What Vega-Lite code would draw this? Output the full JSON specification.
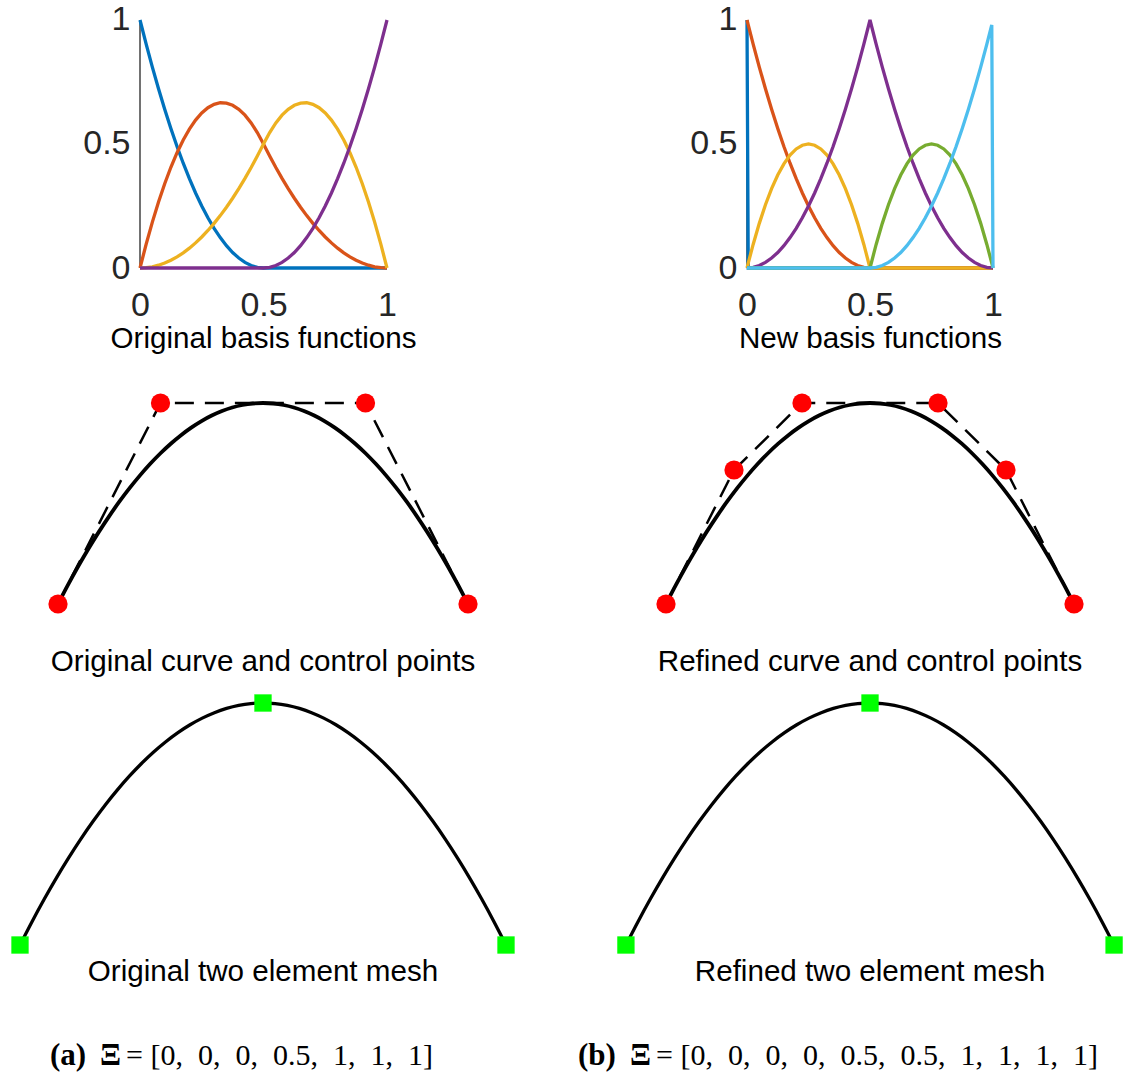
{
  "$schema": "https://vega.github.io/schema/vega-lite/v6.json",
  "padding": 0,
  "background": "white",
  "config": {
    "view": {"stroke": null},
    "axis": {"labelFont": "Liberation Sans", "titleFont": "Liberation Sans", "labelColor": "#262626", "titleColor": "#000000", "grid": false, "domain": false, "ticks": false},
    "title": {"font": "Liberation Sans", "fontWeight": "normal", "color": "#000000"}
  },
  "datasets": {
    "basis_a": [
      {"u":0,"N0":1,"N1":0,"N2":0,"N3":0},
      {"u":0.025,"N0":0.9025,"N1":0.09625,"N2":0.00125,"N3":0},
      {"u":0.05,"N0":0.81,"N1":0.185,"N2":0.005,"N3":0},
      {"u":0.075,"N0":0.7225,"N1":0.26625,"N2":0.01125,"N3":0},
      {"u":0.1,"N0":0.64,"N1":0.34,"N2":0.02,"N3":0},
      {"u":0.125,"N0":0.5625,"N1":0.40625,"N2":0.03125,"N3":0},
      {"u":0.15,"N0":0.49,"N1":0.465,"N2":0.045,"N3":0},
      {"u":0.175,"N0":0.4225,"N1":0.51625,"N2":0.06125,"N3":0},
      {"u":0.2,"N0":0.36,"N1":0.56,"N2":0.08,"N3":0},
      {"u":0.225,"N0":0.3025,"N1":0.59625,"N2":0.10125,"N3":0},
      {"u":0.25,"N0":0.25,"N1":0.625,"N2":0.125,"N3":0},
      {"u":0.275,"N0":0.2025,"N1":0.64625,"N2":0.15125,"N3":0},
      {"u":0.3,"N0":0.16,"N1":0.66,"N2":0.18,"N3":0},
      {"u":0.325,"N0":0.1225,"N1":0.66625,"N2":0.21125,"N3":0},
      {"u":0.35,"N0":0.09,"N1":0.665,"N2":0.245,"N3":0},
      {"u":0.375,"N0":0.0625,"N1":0.65625,"N2":0.28125,"N3":0},
      {"u":0.4,"N0":0.04,"N1":0.64,"N2":0.32,"N3":0},
      {"u":0.425,"N0":0.0225,"N1":0.61625,"N2":0.36125,"N3":0},
      {"u":0.45,"N0":0.01,"N1":0.585,"N2":0.405,"N3":0},
      {"u":0.475,"N0":0.0025,"N1":0.54625,"N2":0.45125,"N3":0},
      {"u":0.5,"N0":0,"N1":0.5,"N2":0.5,"N3":0},
      {"u":0.525,"N0":0,"N1":0.45125,"N2":0.54625,"N3":0.0025},
      {"u":0.55,"N0":0,"N1":0.405,"N2":0.585,"N3":0.01},
      {"u":0.575,"N0":0,"N1":0.36125,"N2":0.61625,"N3":0.0225},
      {"u":0.6,"N0":0,"N1":0.32,"N2":0.64,"N3":0.04},
      {"u":0.625,"N0":0,"N1":0.28125,"N2":0.65625,"N3":0.0625},
      {"u":0.65,"N0":0,"N1":0.245,"N2":0.665,"N3":0.09},
      {"u":0.675,"N0":0,"N1":0.21125,"N2":0.66625,"N3":0.1225},
      {"u":0.7,"N0":0,"N1":0.18,"N2":0.66,"N3":0.16},
      {"u":0.725,"N0":0,"N1":0.15125,"N2":0.64625,"N3":0.2025},
      {"u":0.75,"N0":0,"N1":0.125,"N2":0.625,"N3":0.25},
      {"u":0.775,"N0":0,"N1":0.10125,"N2":0.59625,"N3":0.3025},
      {"u":0.8,"N0":0,"N1":0.08,"N2":0.56,"N3":0.36},
      {"u":0.825,"N0":0,"N1":0.06125,"N2":0.51625,"N3":0.4225},
      {"u":0.85,"N0":0,"N1":0.045,"N2":0.465,"N3":0.49},
      {"u":0.875,"N0":0,"N1":0.03125,"N2":0.40625,"N3":0.5625},
      {"u":0.9,"N0":0,"N1":0.02,"N2":0.34,"N3":0.64},
      {"u":0.925,"N0":0,"N1":0.01125,"N2":0.26625,"N3":0.7225},
      {"u":0.95,"N0":0,"N1":0.005,"N2":0.185,"N3":0.81},
      {"u":0.975,"N0":0,"N1":0.00125,"N2":0.09625,"N3":0.9025},
      {"u":1,"N0":0,"N1":0,"N2":0,"N3":1}
    ],
    "basis_b": [
      {"u":0,"B1":1,"B2":1,"B3":0,"B4":0,"B5":0,"B6":0},
      {"u":0.005,"B1":0,"B2":0.9801,"B3":0.0198,"B4":0.0001,"B5":0,"B6":0},
      {"u":0.025,"B1":0,"B2":0.9025,"B3":0.095,"B4":0.0025,"B5":0,"B6":0},
      {"u":0.05,"B1":0,"B2":0.81,"B3":0.18,"B4":0.01,"B5":0,"B6":0},
      {"u":0.075,"B1":0,"B2":0.7225,"B3":0.255,"B4":0.0225,"B5":0,"B6":0},
      {"u":0.1,"B1":0,"B2":0.64,"B3":0.32,"B4":0.04,"B5":0,"B6":0},
      {"u":0.125,"B1":0,"B2":0.5625,"B3":0.375,"B4":0.0625,"B5":0,"B6":0},
      {"u":0.15,"B1":0,"B2":0.49,"B3":0.42,"B4":0.09,"B5":0,"B6":0},
      {"u":0.175,"B1":0,"B2":0.4225,"B3":0.455,"B4":0.1225,"B5":0,"B6":0},
      {"u":0.2,"B1":0,"B2":0.36,"B3":0.48,"B4":0.16,"B5":0,"B6":0},
      {"u":0.225,"B1":0,"B2":0.3025,"B3":0.495,"B4":0.2025,"B5":0,"B6":0},
      {"u":0.25,"B1":0,"B2":0.25,"B3":0.5,"B4":0.25,"B5":0,"B6":0},
      {"u":0.275,"B1":0,"B2":0.2025,"B3":0.495,"B4":0.3025,"B5":0,"B6":0},
      {"u":0.3,"B1":0,"B2":0.16,"B3":0.48,"B4":0.36,"B5":0,"B6":0},
      {"u":0.325,"B1":0,"B2":0.1225,"B3":0.455,"B4":0.4225,"B5":0,"B6":0},
      {"u":0.35,"B1":0,"B2":0.09,"B3":0.42,"B4":0.49,"B5":0,"B6":0},
      {"u":0.375,"B1":0,"B2":0.0625,"B3":0.375,"B4":0.5625,"B5":0,"B6":0},
      {"u":0.4,"B1":0,"B2":0.04,"B3":0.32,"B4":0.64,"B5":0,"B6":0},
      {"u":0.425,"B1":0,"B2":0.0225,"B3":0.255,"B4":0.7225,"B5":0,"B6":0},
      {"u":0.45,"B1":0,"B2":0.01,"B3":0.18,"B4":0.81,"B5":0,"B6":0},
      {"u":0.475,"B1":0,"B2":0.0025,"B3":0.095,"B4":0.9025,"B5":0,"B6":0},
      {"u":0.5,"B1":0,"B2":0,"B3":0,"B4":1,"B5":0,"B6":0},
      {"u":0.525,"B1":0,"B2":0,"B3":0,"B4":0.9025,"B5":0.095,"B6":0.0025},
      {"u":0.55,"B1":0,"B2":0,"B3":0,"B4":0.81,"B5":0.18,"B6":0.01},
      {"u":0.575,"B1":0,"B2":0,"B3":0,"B4":0.7225,"B5":0.255,"B6":0.0225},
      {"u":0.6,"B1":0,"B2":0,"B3":0,"B4":0.64,"B5":0.32,"B6":0.04},
      {"u":0.625,"B1":0,"B2":0,"B3":0,"B4":0.5625,"B5":0.375,"B6":0.0625},
      {"u":0.65,"B1":0,"B2":0,"B3":0,"B4":0.49,"B5":0.42,"B6":0.09},
      {"u":0.675,"B1":0,"B2":0,"B3":0,"B4":0.4225,"B5":0.455,"B6":0.1225},
      {"u":0.7,"B1":0,"B2":0,"B3":0,"B4":0.36,"B5":0.48,"B6":0.16},
      {"u":0.725,"B1":0,"B2":0,"B3":0,"B4":0.3025,"B5":0.495,"B6":0.2025},
      {"u":0.75,"B1":0,"B2":0,"B3":0,"B4":0.25,"B5":0.5,"B6":0.25},
      {"u":0.775,"B1":0,"B2":0,"B3":0,"B4":0.2025,"B5":0.495,"B6":0.3025},
      {"u":0.8,"B1":0,"B2":0,"B3":0,"B4":0.16,"B5":0.48,"B6":0.36},
      {"u":0.825,"B1":0,"B2":0,"B3":0,"B4":0.1225,"B5":0.455,"B6":0.4225},
      {"u":0.85,"B1":0,"B2":0,"B3":0,"B4":0.09,"B5":0.42,"B6":0.49},
      {"u":0.875,"B1":0,"B2":0,"B3":0,"B4":0.0625,"B5":0.375,"B6":0.5625},
      {"u":0.9,"B1":0,"B2":0,"B3":0,"B4":0.04,"B5":0.32,"B6":0.64},
      {"u":0.925,"B1":0,"B2":0,"B3":0,"B4":0.0225,"B5":0.255,"B6":0.7225},
      {"u":0.95,"B1":0,"B2":0,"B3":0,"B4":0.01,"B5":0.18,"B6":0.81},
      {"u":0.975,"B1":0,"B2":0,"B3":0,"B4":0.0025,"B5":0.095,"B6":0.9025},
      {"u":0.995,"B1":0,"B2":0,"B3":0,"B4":0.0001,"B5":0.0198,"B6":0.9801},
      {"u":1,"B1":0,"B2":0,"B3":0,"B4":0,"B5":0,"B6":0}
    ],
    "curve": [
      {"x":0,"y":0},{"x":0.025,"y":0.0975},{"x":0.05,"y":0.19},{"x":0.075,"y":0.2775},{"x":0.1,"y":0.36},
      {"x":0.125,"y":0.4375},{"x":0.15,"y":0.51},{"x":0.175,"y":0.5775},{"x":0.2,"y":0.64},{"x":0.225,"y":0.6975},
      {"x":0.25,"y":0.75},{"x":0.275,"y":0.7975},{"x":0.3,"y":0.84},{"x":0.325,"y":0.8775},{"x":0.35,"y":0.91},
      {"x":0.375,"y":0.9375},{"x":0.4,"y":0.96},{"x":0.425,"y":0.9775},{"x":0.45,"y":0.99},{"x":0.475,"y":0.9975},
      {"x":0.5,"y":1},
      {"x":0.525,"y":0.9975},{"x":0.55,"y":0.99},{"x":0.575,"y":0.9775},{"x":0.6,"y":0.96},{"x":0.625,"y":0.9375},
      {"x":0.65,"y":0.91},{"x":0.675,"y":0.8775},{"x":0.7,"y":0.84},{"x":0.725,"y":0.7975},{"x":0.75,"y":0.75},
      {"x":0.775,"y":0.6975},{"x":0.8,"y":0.64},{"x":0.825,"y":0.5775},{"x":0.85,"y":0.51},{"x":0.875,"y":0.4375},
      {"x":0.9,"y":0.36},{"x":0.925,"y":0.2775},{"x":0.95,"y":0.19},{"x":0.975,"y":0.0975},{"x":1,"y":0}
    ],
    "ctrl_a": [{"x":0,"y":0},{"x":0.25,"y":1},{"x":0.75,"y":1},{"x":1,"y":0}],
    "ctrl_b": [{"x":0,"y":0},{"x":0.1667,"y":0.6667},{"x":0.3333,"y":1},{"x":0.6667,"y":1},{"x":0.8333,"y":0.6667},{"x":1,"y":0}],
    "mesh": [{"x":0,"y":0},{"x":0.5,"y":1},{"x":1,"y":0}]
  },
  "columns": 2,
  "spacing": {"row": 0, "column": 87},
  "bounds": "flush",
  "concat": [
    {
      "width": 526, "height": 268,
      "data": {"name": "basis_a"},
      "layer": [
        {"data": {"values": [{}]}, "mark": {"type": "rule", "color": "#262626", "strokeWidth": 1.3},
         "encoding": {
           "x": {"datum": 0, "type": "quantitative", "scale": {"domain": [-0.566802, 1.562753], "nice": false, "zero": false},
                 "axis": {"values": [0, 0.5, 1], "format": "~g", "labelFontSize": 34, "labelPadding": 20, "title": "Original basis functions", "titleFontSize": 29.6, "titleFontWeight": "normal", "titlePadding": 2}},
           "y": {"datum": 0, "type": "quantitative", "scale": {"domain": [0, 1.080645], "nice": false, "zero": false},
                 "axis": {"values": [0, 0.5, 1], "format": "~g", "labelFontSize": 34, "labelPadding": 10, "offset": -140, "title": null}},
           "y2": {"datum": 1}}},
        {"data": {"values": [{}]}, "mark": {"type": "rule", "color": "#262626", "strokeWidth": 1.3},
         "encoding": {"y": {"datum": 0, "type": "quantitative"}, "x": {"datum": 0, "type": "quantitative"}, "x2": {"datum": 1}}},
        {"mark": {"type": "line", "color": "#0072BD", "strokeWidth": 3.3},
         "encoding": {"x": {"field": "u", "type": "quantitative"}, "y": {"field": "N0", "type": "quantitative"}}},
        {"mark": {"type": "line", "color": "#D95319", "strokeWidth": 3.3},
         "encoding": {"x": {"field": "u", "type": "quantitative"}, "y": {"field": "N1", "type": "quantitative"}}},
        {"mark": {"type": "line", "color": "#EDB120", "strokeWidth": 3.3},
         "encoding": {"x": {"field": "u", "type": "quantitative"}, "y": {"field": "N2", "type": "quantitative"}}},
        {"mark": {"type": "line", "color": "#7E2F8E", "strokeWidth": 3.3},
         "encoding": {"x": {"field": "u", "type": "quantitative"}, "y": {"field": "N3", "type": "quantitative"}}}
      ]
    },
    {
      "width": 514, "height": 268,
      "data": {"name": "basis_b"},
      "layer": [
        {"data": {"values": [{}]}, "mark": {"type": "rule", "color": "#262626", "strokeWidth": 1.3},
         "encoding": {
           "x": {"datum": 0, "type": "quantitative", "scale": {"domain": [-0.544715, 1.544715], "nice": false, "zero": false},
                 "axis": {"values": [0, 0.5, 1], "format": "~g", "labelFontSize": 34, "labelPadding": 20, "title": "New basis functions", "titleFontSize": 29.6, "titleFontWeight": "normal", "titlePadding": 2}},
           "y": {"datum": 0, "type": "quantitative", "scale": {"domain": [0, 1.080645], "nice": false, "zero": false},
                 "axis": {"values": [0, 0.5, 1], "format": "~g", "labelFontSize": 34, "labelPadding": 10, "offset": -134, "title": null}},
           "y2": {"datum": 1}}},
        {"data": {"values": [{}]}, "mark": {"type": "rule", "color": "#262626", "strokeWidth": 1.3},
         "encoding": {"y": {"datum": 0, "type": "quantitative"}, "x": {"datum": 0, "type": "quantitative"}, "x2": {"datum": 1}}},
        {"mark": {"type": "line", "color": "#0072BD", "strokeWidth": 3.3},
         "encoding": {"x": {"field": "u", "type": "quantitative"}, "y": {"field": "B1", "type": "quantitative"}}},
        {"mark": {"type": "line", "color": "#D95319", "strokeWidth": 3.3},
         "encoding": {"x": {"field": "u", "type": "quantitative"}, "y": {"field": "B2", "type": "quantitative"}}},
        {"mark": {"type": "line", "color": "#EDB120", "strokeWidth": 3.3},
         "encoding": {"x": {"field": "u", "type": "quantitative"}, "y": {"field": "B3", "type": "quantitative"}}},
        {"mark": {"type": "line", "color": "#7E2F8E", "strokeWidth": 3.3},
         "encoding": {"x": {"field": "u", "type": "quantitative"}, "y": {"field": "B4", "type": "quantitative"}}},
        {"mark": {"type": "line", "color": "#77AC30", "strokeWidth": 3.3},
         "encoding": {"x": {"field": "u", "type": "quantitative"}, "y": {"field": "B5", "type": "quantitative"}}},
        {"mark": {"type": "line", "color": "#4DBEEE", "strokeWidth": 3.3},
         "encoding": {"x": {"field": "u", "type": "quantitative"}, "y": {"field": "B6", "type": "quantitative"}}}
      ]
    },
    {
      "width": 526, "height": 372,
      "title": {"text": "Original curve and control points", "orient": "bottom", "anchor": "middle", "frame": "group", "fontSize": 29.6, "offset": 8, "baseline": "top"},
      "layer": [
        {"data": {"name": "curve"}, "mark": {"type": "line", "color": "#000000", "strokeWidth": 3.8, "interpolate": "monotone"},
         "encoding": {"x": {"field": "x", "type": "quantitative", "scale": {"domain": [-0.141463, 1.141463], "nice": false, "zero": false}, "axis": null},
                      "y": {"field": "y", "type": "quantitative", "scale": {"domain": [-0.179104, 1.671642], "nice": false, "zero": false}, "axis": null}}},
        {"data": {"name": "ctrl_a"}, "mark": {"type": "line", "color": "#000000", "strokeWidth": 2.5, "strokeDash": [19, 11]},
         "encoding": {"x": {"field": "x", "type": "quantitative", "axis": null}, "y": {"field": "y", "type": "quantitative", "axis": null}}},
        {"data": {"name": "ctrl_a"}, "mark": {"type": "circle", "color": "#FF0000", "opacity": 1, "size": 370},
         "encoding": {"x": {"field": "x", "type": "quantitative", "axis": null}, "y": {"field": "y", "type": "quantitative", "axis": null}}}
      ]
    },
    {
      "width": 514, "height": 372,
      "title": {"text": "Refined curve and control points", "orient": "bottom", "anchor": "middle", "frame": "group", "fontSize": 29.6, "offset": 8, "baseline": "top"},
      "layer": [
        {"data": {"name": "curve"}, "mark": {"type": "line", "color": "#000000", "strokeWidth": 3.8, "interpolate": "monotone"},
         "encoding": {"x": {"field": "x", "type": "quantitative", "scale": {"domain": [-0.129902, 1.129902], "nice": false, "zero": false}, "axis": null},
                      "y": {"field": "y", "type": "quantitative", "scale": {"domain": [-0.179104, 1.671642], "nice": false, "zero": false}, "axis": null}}},
        {"data": {"name": "ctrl_b"}, "mark": {"type": "line", "color": "#000000", "strokeWidth": 2.5, "strokeDash": [19, 11]},
         "encoding": {"x": {"field": "x", "type": "quantitative", "axis": null}, "y": {"field": "y", "type": "quantitative", "axis": null}}},
        {"data": {"name": "ctrl_b"}, "mark": {"type": "circle", "color": "#FF0000", "opacity": 1, "size": 370},
         "encoding": {"x": {"field": "x", "type": "quantitative", "axis": null}, "y": {"field": "y", "type": "quantitative", "axis": null}}}
      ]
    },
    {
      "width": 526, "height": 312,
      "title": {"text": "Original two element mesh", "orient": "bottom", "anchor": "middle", "frame": "group", "fontSize": 29.6, "offset": 4, "baseline": "top"},
      "layer": [
        {"data": {"name": "curve"}, "mark": {"type": "line", "color": "#000000", "strokeWidth": 3.3, "interpolate": "monotone"},
         "encoding": {"x": {"field": "x", "type": "quantitative", "scale": {"domain": [-0.041152, 1.041152], "nice": false, "zero": false}, "axis": null},
                      "y": {"field": "y", "type": "quantitative", "scale": {"domain": [-0.028926, 1.260331], "nice": false, "zero": false}, "axis": null}}},
        {"data": {"name": "mesh"}, "mark": {"type": "square", "color": "#00FF00", "opacity": 1, "filled": true, "size": 300},
         "encoding": {"x": {"field": "x", "type": "quantitative", "axis": null}, "y": {"field": "y", "type": "quantitative", "axis": null}}}
      ]
    },
    {
      "width": 514, "height": 312,
      "title": {"text": "Refined two element mesh", "orient": "bottom", "anchor": "middle", "frame": "group", "fontSize": 29.6, "offset": 4, "baseline": "top"},
      "layer": [
        {"data": {"name": "curve"}, "mark": {"type": "line", "color": "#000000", "strokeWidth": 3.3, "interpolate": "monotone"},
         "encoding": {"x": {"field": "x", "type": "quantitative", "scale": {"domain": [-0.026477, 1.026477], "nice": false, "zero": false}, "axis": null},
                      "y": {"field": "y", "type": "quantitative", "scale": {"domain": [-0.028926, 1.260331], "nice": false, "zero": false}, "axis": null}}},
        {"data": {"name": "mesh"}, "mark": {"type": "square", "color": "#00FF00", "opacity": 1, "filled": true, "size": 300},
         "encoding": {"x": {"field": "x", "type": "quantitative", "axis": null}, "y": {"field": "y", "type": "quantitative", "axis": null}}}
      ]
    },
    {
      "width": 526, "height": 129,
      "data": {"values": [{}]},
      "layer": [
        {"mark": {"type": "text", "font": "Liberation Serif", "fontSize": 31, "fontWeight": "bold", "align": "left", "baseline": "alphabetic", "color": "#000000"},
         "encoding": {"x": {"datum": 0.0951, "type": "quantitative", "scale": {"domain": [0, 1], "nice": false, "zero": false}, "axis": null},
                      "y": {"datum": 0.124, "type": "quantitative", "scale": {"domain": [0, 1], "nice": false, "zero": false}, "axis": null},
                      "text": {"value": "(a)"}}},
        {"mark": {"type": "text", "font": "Liberation Serif", "fontSize": 31, "fontWeight": "bold", "align": "left", "baseline": "alphabetic", "color": "#000000"},
         "encoding": {"x": {"datum": 0.1901, "type": "quantitative"}, "y": {"datum": 0.124, "type": "quantitative"}, "text": {"value": "Ξ"}}},
        {"mark": {"type": "text", "font": "Liberation Serif", "fontSize": 30, "align": "left", "baseline": "alphabetic", "color": "#000000"},
         "encoding": {"x": {"datum": 0.2395, "type": "quantitative"}, "y": {"datum": 0.124, "type": "quantitative"}, "text": {"value": "= [0,\u20020,\u20020,\u20020.5,\u20021,\u20021,\u20021]"}}}
      ]
    },
    {
      "width": 514, "height": 129,
      "data": {"values": [{}]},
      "layer": [
        {"mark": {"type": "text", "font": "Liberation Serif", "fontSize": 31, "fontWeight": "bold", "align": "left", "baseline": "alphabetic", "color": "#000000"},
         "encoding": {"x": {"datum": -0.0681, "type": "quantitative", "scale": {"domain": [0, 1], "nice": false, "zero": false}, "axis": null},
                      "y": {"datum": 0.124, "type": "quantitative", "scale": {"domain": [0, 1], "nice": false, "zero": false}, "axis": null},
                      "text": {"value": "(b)"}}},
        {"mark": {"type": "text", "font": "Liberation Serif", "fontSize": 31, "fontWeight": "bold", "align": "left", "baseline": "alphabetic", "color": "#000000"},
         "encoding": {"x": {"datum": 0.0331, "type": "quantitative"}, "y": {"datum": 0.124, "type": "quantitative"}, "text": {"value": "Ξ"}}},
        {"mark": {"type": "text", "font": "Liberation Serif", "fontSize": 30, "align": "left", "baseline": "alphabetic", "color": "#000000"},
         "encoding": {"x": {"datum": 0.0837, "type": "quantitative"}, "y": {"datum": 0.124, "type": "quantitative"}, "text": {"value": "= [0,\u20020,\u20020,\u20020,\u20020.5,\u20020.5,\u20021,\u20021,\u20021,\u20021]"}}}
      ]
    }
  ]
}
